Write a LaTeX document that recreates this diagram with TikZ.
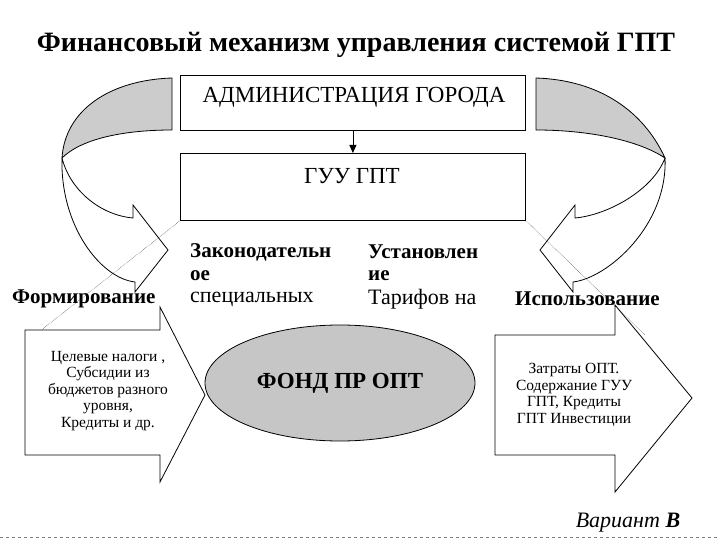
\documentclass[tikz,border=0pt]{standalone}
\usepackage{fontspec}
\setmainfont{Liberation Serif}
\usetikzlibrary{shapes.geometric,arrows.meta}
\begin{document}
\begin{tikzpicture}[x=1pt,y=-1pt,
  box/.style={draw,thick,fill=white,minimum width=345pt,minimum height=55pt,anchor=north west},
  small/.style={font=\fontsize{15.5}{16.5}\selectfont,align=center},
  lbl/.style={font=\fontsize{22}{24}\selectfont,anchor=west,inner sep=0pt},
  blbl/.style={lbl,font=\bfseries\fontsize{21}{24}\selectfont}]
\useasboundingbox (0,0) rectangle (720,540);
\node[font=\bfseries\fontsize{28}{30}\selectfont] (title) at (356,45) {Финансовый механизм управления системой ГПТ};
% curved arrows
\begin{scope}[thick]
\filldraw[fill=gray!40] (172,78) .. controls (110,80) and (65,110) .. (62,158) .. controls (80,140) and (120,130) .. (172,130) -- cycle;
\filldraw[fill=white] (62,158) .. controls (60,225) and (100,278) .. (135,282) -- (135,292) -- (168,250) -- (133,205) -- (133,218) .. controls (100,215) and (70,190) .. (62,158);
\begin{scope}[xshift=708,xscale=-1]
\filldraw[fill=gray!40] (172,78) .. controls (110,80) and (65,110) .. (43,158) .. controls (70,140) and (120,130) .. (172,130) -- cycle;
\filldraw[fill=white] (43,158) .. controls (40,225) and (100,278) .. (135,282) -- (135,292) -- (168,250) -- (133,205) -- (133,218) .. controls (100,215) and (55,190) .. (43,158);
\end{scope}
\end{scope}
\node[box] (adm) at (180,75) {};
\node[font=\fontsize{23}{24}\selectfont] (admt) at (354,97) {АДМИНИСТРАЦИЯ ГОРОДА};
\node[box,minimum height=67pt] (guu) at (180,153) {};
\node[font=\fontsize{23}{24}\selectfont] (guut) at (352,176) {ГУУ ГПТ};
\draw[thick,-{Triangle[length=8pt,width=7pt]}] (adm.south) -- (guu.north);
% dotted lines
\coordinate (dl) at (35,335);
\coordinate (dr) at (645,335);
\draw[densely dotted,thin] (guu.south west) -- (dl);
\draw[densely dotted,thin] (guu.south east) -- (dr);
% labels
\node[blbl] (z1) at (190,252) {Законодательн};
\node[blbl] (z2) at (190,276) {ое};
\node[lbl] (z3) at (190,299) {специальных};
\node[blbl] (u1) at (368,252) {Установлен};
\node[blbl] (u2) at (368,276) {ие};
\node[lbl] (u3) at (368,299) {Тарифов на};
\node[blbl] (form) at (12,299) {Формирование};
\node[blbl] (isp) at (515,299) {Использование};
% big arrows
\draw[thick,fill=white] (25,330) -- (160,330) -- (160,307) -- (205,395) -- (160,482) -- (160,455) -- (25,455) -- cycle;
\node[small] (lt) at (108,391) {Целевые налоги ,\\Субсидии из\\бюджетов разного\\уровня,\\Кредиты и др.};
\draw[thick,fill=white] (495,335) -- (615,335) -- (615,305) -- (692,398) -- (615,492) -- (615,455) -- (495,455) -- cycle;
\node[small] (rt) at (574,395) {Затраты ОПТ.\\Содержание ГУУ\\ГПТ, Кредиты\\ГПТ Инвестиции};
\node[ellipse,draw,thick,fill=gray!45,minimum width=270pt,minimum height=116pt,font=\bfseries\fontsize{23}{24}\selectfont] (fond) at (340,383) {ФОНД ПР ОПТ};
\node[font=\itshape\fontsize{22}{24}\selectfont] (var) at (628,523) {Вариант \textbf{В}};
\coordinate (b1) at (0,537); \coordinate (b2) at (720,537);
\draw[dashed,gray] (b1) -- (b2);
\end{tikzpicture}
\end{document}
